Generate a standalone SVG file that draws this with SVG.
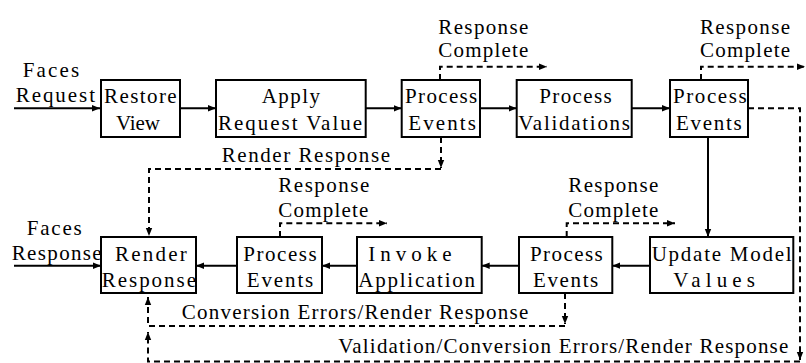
<svg xmlns="http://www.w3.org/2000/svg" width="806" height="363" viewBox="0 0 806 363">
<style>
.box{fill:#fff;stroke:#000;stroke-width:2}
.t{font-family:"Liberation Serif",serif;font-size:21px;fill:#000}
.solid{stroke:#000;stroke-width:2;fill:none}
.dash{stroke:#000;stroke-width:2;stroke-dasharray:6 4;fill:none}
</style>
<defs>
<marker id="ah" viewBox="0 0 10 10" refX="10" refY="5" markerWidth="8" markerHeight="8" markerUnits="userSpaceOnUse" orient="auto">
<path d="M0,1 L10,5 L0,9 z" fill="#000" stroke="none"/>
</marker>
</defs>
<rect width="806" height="363" fill="#fff"/>
<g id="connectors">
<line class="solid" x1="14" y1="108.3" x2="100" y2="108.3" marker-end="url(#ah)"/>
<line class="solid" x1="180" y1="108.3" x2="216" y2="108.3" marker-end="url(#ah)"/>
<line class="solid" x1="366" y1="108.3" x2="401.7" y2="108.3" marker-end="url(#ah)"/>
<line class="solid" x1="480" y1="108.3" x2="516.7" y2="108.3" marker-end="url(#ah)"/>
<line class="solid" x1="632" y1="108.3" x2="670" y2="108.3" marker-end="url(#ah)"/>
<line class="solid" x1="708" y1="137" x2="708" y2="237" marker-end="url(#ah)"/>
<line class="solid" x1="14" y1="265.7" x2="101" y2="265.7" marker-end="url(#ah)"/>
<line class="solid" x1="650" y1="265.7" x2="612.3" y2="265.7" marker-end="url(#ah)"/>
<line class="solid" x1="519" y1="265.7" x2="481.7" y2="265.7" marker-end="url(#ah)"/>
<line class="solid" x1="357" y1="265.7" x2="322" y2="265.7" marker-end="url(#ah)"/>
<line class="solid" x1="237" y1="265.7" x2="196" y2="265.7" marker-end="url(#ah)"/>
<path class="dash" d="M440,80 V66.7 H547" marker-end="url(#ah)"/>
<path class="dash" d="M701,80 V66.7 H805" marker-end="url(#ah)"/>
<path class="dash" d="M280,237 V223.3 H387" marker-end="url(#ah)"/>
<path class="dash" d="M566.7,237 V223.3 H675" marker-end="url(#ah)"/>
<path class="dash" d="M441,137 V168" marker-end="url(#ah)"/>
<path class="dash" d="M441,169 H149 V236" marker-end="url(#ah)"/>
<path class="dash" d="M748,108.3 H800 V360" marker-end="url(#ah)"/>
<path class="dash" d="M800,361.5 H148 V332" marker-end="url(#ah)"/>
<path class="dash" d="M565,293 V324" marker-end="url(#ah)"/>
<path class="dash" d="M565,326 H148 V297" marker-end="url(#ah)"/>
</g>
<g id="labels">
<text class="t" x="22.7" y="77" textLength="56.6" lengthAdjust="spacing">Faces</text>
<text class="t" x="15.7" y="102" textLength="79.3" lengthAdjust="spacing">Request</text>
<text class="t" x="221.7" y="162" textLength="168.3" lengthAdjust="spacing">Render Response</text>
<text class="t" x="438.3" y="34" textLength="90" lengthAdjust="spacing">Response</text>
<text class="t" x="438.3" y="57" textLength="90" lengthAdjust="spacing">Complete</text>
<text class="t" x="700" y="34" textLength="90" lengthAdjust="spacing">Response</text>
<text class="t" x="700" y="57" textLength="90" lengthAdjust="spacing">Complete</text>
<text class="t" x="26.7" y="235" textLength="55" lengthAdjust="spacing">Faces</text>
<text class="t" x="11.7" y="260" textLength="90" lengthAdjust="spacing">Response</text>
<text class="t" x="278.3" y="192" textLength="91" lengthAdjust="spacing">Response</text>
<text class="t" x="278.3" y="217" textLength="90" lengthAdjust="spacing">Complete</text>
<text class="t" x="568.3" y="192" textLength="90" lengthAdjust="spacing">Response</text>
<text class="t" x="568.3" y="217" textLength="90" lengthAdjust="spacing">Complete</text>
<text class="t" x="181.7" y="319" textLength="346.6" lengthAdjust="spacing">Conversion Errors/Render Response</text>
<text class="t" x="338.3" y="353" textLength="450" lengthAdjust="spacing">Validation/Conversion Errors/Render Response</text>
</g>
<g id="restore-view">
<rect class="box" x="101" y="80" width="79" height="57"/>
<text class="t" x="104" y="103" textLength="72.7" lengthAdjust="spacing">Restore</text>
<text class="t" x="116" y="130" textLength="44" lengthAdjust="spacing">View</text>
</g>
<g id="apply-request-value">
<rect class="box" x="216" y="80" width="149.7" height="57"/>
<text class="t" x="261.7" y="103" textLength="58.3" lengthAdjust="spacing">Apply</text>
<text class="t" x="218" y="130" textLength="144" lengthAdjust="spacing">Request Value</text>
</g>
<g id="process-events-1">
<rect class="box" x="401.7" y="80" width="78.3" height="57"/>
<text class="t" x="405" y="103" textLength="72.3" lengthAdjust="spacing">Process</text>
<text class="t" x="408.3" y="130" textLength="67.7" lengthAdjust="spacing">Events</text>
</g>
<g id="process-validations">
<rect class="box" x="516.7" y="80" width="115" height="57"/>
<text class="t" x="539.3" y="103" textLength="72.4" lengthAdjust="spacing">Process</text>
<text class="t" x="518.3" y="130" textLength="111.7" lengthAdjust="spacing">Validations</text>
</g>
<g id="process-events-2">
<rect class="box" x="670" y="80" width="78" height="57"/>
<text class="t" x="673" y="103" textLength="73.7" lengthAdjust="spacing">Process</text>
<text class="t" x="676" y="130" textLength="65.7" lengthAdjust="spacing">Events</text>
</g>
<g id="render-response">
<rect class="box" x="101" y="237" width="95" height="56"/>
<text class="t" x="115" y="261" textLength="71.7" lengthAdjust="spacing">Render</text>
<text class="t" x="101.7" y="287" textLength="94.3" lengthAdjust="spacing">Response</text>
</g>
<g id="process-events-3">
<rect class="box" x="237" y="237" width="85" height="56"/>
<text class="t" x="243.3" y="261" textLength="73.4" lengthAdjust="spacing">Process</text>
<text class="t" x="246.7" y="287" textLength="66.6" lengthAdjust="spacing">Events</text>
</g>
<g id="invoke-application">
<rect class="box" x="357" y="237" width="124.7" height="56"/>
<text class="t" x="368.3" y="261" textLength="83.4" lengthAdjust="spacing">Invoke</text>
<text class="t" x="358.3" y="287" textLength="116.7" lengthAdjust="spacing">Application</text>
</g>
<g id="process-events-4">
<rect class="box" x="519" y="237" width="93.3" height="56"/>
<text class="t" x="530" y="261" textLength="72.7" lengthAdjust="spacing">Process</text>
<text class="t" x="533" y="287" textLength="65.3" lengthAdjust="spacing">Events</text>
</g>
<g id="update-model-values">
<rect class="box" x="650" y="237" width="143.3" height="56"/>
<text class="t" x="651.7" y="261" textLength="140" lengthAdjust="spacing">Update Model</text>
<text class="t" x="673.3" y="287" textLength="81.7" lengthAdjust="spacing">Values</text>
</g>
</svg>
